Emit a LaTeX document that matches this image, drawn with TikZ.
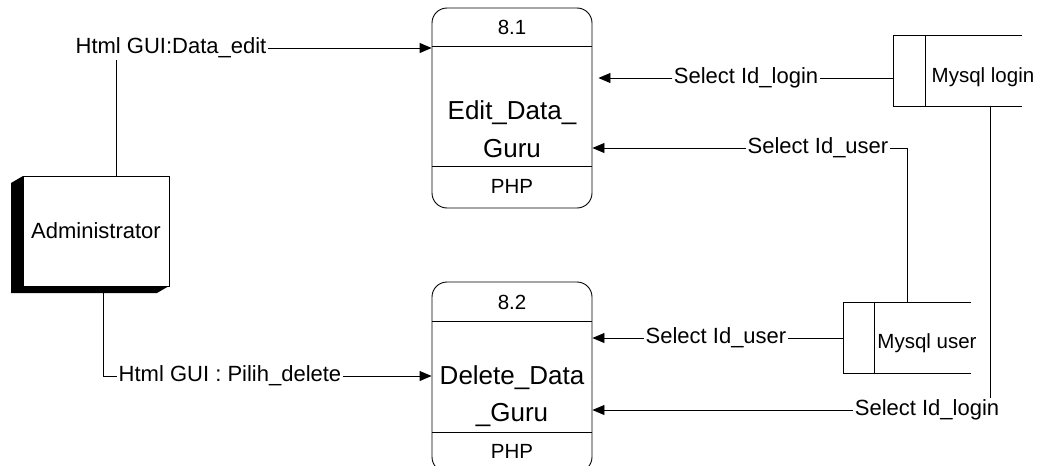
\documentclass[tikz,border=0pt]{standalone}
\usepackage{fontspec}
\setmainfont{Liberation Sans}
\usetikzlibrary{arrows.meta,calc}

\tikzset{
  flow/.style={line width=0.9pt,-{Triangle[length=12pt,width=10pt]}},
  line/.style={line width=0.9pt},
  lbl/.style={inner sep=1.5pt,font=\fontsize{22}{24}\selectfont},
  proc/.style={draw,line width=0.9pt,rounded corners=15pt,minimum width=160pt,inner sep=0pt},
  store/.style={inner sep=0pt,minimum width=128pt,minimum height=70pt},
  small/.style={inner sep=0pt,font=\fontsize{20.5}{23}\selectfont},
  big/.style={inner sep=0pt,align=center,font=\fontsize{26}{37.5}\selectfont}
}

\begin{document}
\begin{tikzpicture}[x=1pt,y=-1pt]
\useasboundingbox (0,0) rectangle (1045,466);

\fill (23,176) -- (11,183) -- (11,293) -- (157,293) -- (169,286) -- cycle;
\node[draw,fill=white,line width=0.9pt,minimum width=146pt,minimum height=110pt,inner sep=0pt,
  font=\fontsize{22}{24}\selectfont] (admin) at (96,231) {Administrator};

\node[proc,minimum height=200pt] (p81) at (512,108) {};
\draw[line] ([yshift=-39pt]p81.north west) -- ([yshift=-39pt]p81.north east);
\draw[line] ([yshift=42pt]p81.south west) -- ([yshift=42pt]p81.south east);
\node[small] (n81) at (512,27) {8.1};
\node[big] (t81) at (512,129) {Edit\_Data\_\\Guru};
\node[small] (php1) at (512,186) {PHP};

\node[proc,minimum height=190pt] (p82) at (512,377) {};
\draw[line] ([yshift=-40pt]p82.north west) -- ([yshift=-40pt]p82.north east);
\draw[line] ([yshift=-151pt]p82.north west) -- ([yshift=-151pt]p82.north east);
\node[small] (n82) at (512,302) {8.2};
\node[big] (t82) at (512,396) {Delete\_Data\\\_Guru};
\node[small] (php2) at (512,451) {PHP};

\node[store] (mlbox) at (958,71) {};
\draw[line] (mlbox.north east) -- (mlbox.north west) -- (mlbox.south west) -- (mlbox.south east);
\draw[line] ([xshift=32pt]mlbox.north west) -- ([xshift=32pt]mlbox.south west);
\node[small] (ml) at (983,77) {Mysql login};

\node[store,minimum width=127pt] (mubox) at (907.5,338) {};
\draw[line] (mubox.north east) -- (mubox.north west) -- (mubox.south west) -- (mubox.south east);
\draw[line] ([xshift=31pt]mubox.north west) -- ([xshift=31pt]mubox.south west);
\node[small] (mu) at (927,343) {Mysql user};

\node[lbl] (l1) at (171,48) {Html GUI:Data\_edit};
\node[lbl] (l2) at (230,376) {Html GUI : Pilih\_delete};
\node[lbl] (l3) at (746,78) {Select Id\_login};
\node[lbl] (l4) at (818,148) {Select Id\_user};
\node[lbl] (l5) at (716,338) {Select Id\_user};
\node[lbl] (l6) at (927,410) {Select Id\_login};

\coordinate (a1) at ($(admin.north west)!0.637!(admin.north east)$);
\coordinate (a2) at ($(admin.south west)!0.548!(admin.south east)$);
\draw[line] (a1) -- (a1 |- l1.south);
\draw[flow] (l1.east) -- (l1.east -| p81.west);
\draw[line] (a2) |- (l2.west);
\draw[flow] (l2.east) -- (l2.east -| p82.west);

\coordinate (m1) at ($(mlbox.south west)!0.75!(mlbox.south east)$);
\coordinate (u1) at ($(mubox.north west)!0.496!(mubox.north east)$);
\draw[line] (l3 -| mlbox.west) -- (l3.east);
\draw[flow] (l3.west) -- ([xshift=6pt]l3.west -| p81.east);
\draw[line] (u1) |- (l4.east);
\draw[flow] (l4.west) -- (l4.west -| p81.east);
\draw[line] (l5.east -| mubox.west) -- (l5.east);
\draw[flow] (l5.west) -- (l5.west -| p82.east);
\draw[line] (m1) -- (m1 |- l6.north);
\draw[flow] (l6.west) -- (l6.west -| p82.east);
\end{tikzpicture}
\end{document}
